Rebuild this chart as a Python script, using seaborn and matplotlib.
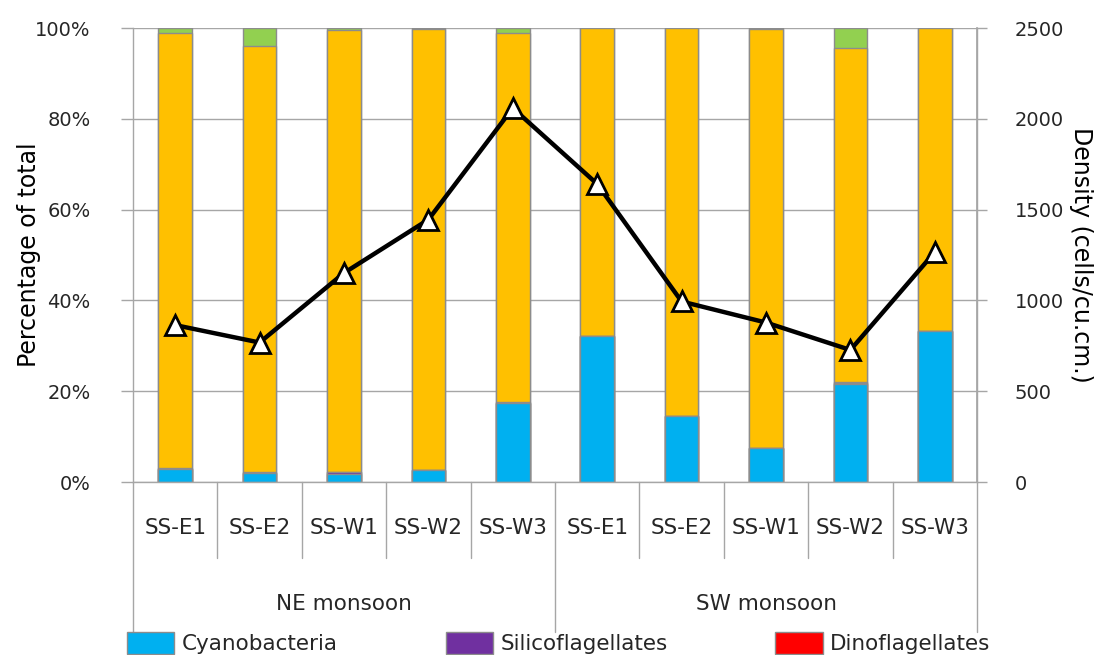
import numpy as np
import pandas as pd
import matplotlib
matplotlib.use('Agg')
import matplotlib.pyplot as plt
import matplotlib.transforms as mtransforms
from matplotlib.patches import Patch
from matplotlib.ticker import PercentFormatter
import seaborn as sns

# ---------------- data ----------------
seasons = ['NE monsoon', 'SW monsoon']
stations = ['SS-E1', 'SS-E2', 'SS-W1', 'SS-W2', 'SS-W3',
            'SS-E1', 'SS-E2', 'SS-W1', 'SS-W2', 'SS-W3']
season_of = ['NE monsoon'] * 5 + ['SW monsoon'] * 5

cyanobacteria     = [2.9, 1.9, 1.7, 2.6, 17.5, 32.2, 14.5, 7.4, 21.5, 33.3]
silicoflagellates = [0.0, 0.0, 0.4, 0.0, 0.0, 0.0, 0.0, 0.0, 0.4, 0.0]
dinoflagellates   = [0.1, 0.2, 0.1, 0.1, 0.1, 0.0, 0.0, 0.1, 0.1, 0.0]
diatoms           = [96.0, 94.0, 97.3, 97.1, 81.4, 67.8, 85.5, 92.2, 73.7, 66.7]
chlorophytes      = [1.0, 3.9, 0.5, 0.2, 1.0, 0.0, 0.0, 0.3, 4.3, 0.0]

density = [864, 768, 1151, 1445, 2059, 1641, 994, 878, 727, 1266]

group_names = ['Cyanobacteria', 'Silicoflagellates', 'Dinoflagellates',
               'Diatoms', 'Chlorophytes']
group_vals = [cyanobacteria, silicoflagellates, dinoflagellates, diatoms, chlorophytes]
group_colors = ['#00B0F0', '#7030A0', '#FF0000', '#FFC000', '#92D050']
legend_shown = [0, 1, 2]   # only the first legend row is visible in the reference

# ---------------- style ----------------
sns.set_theme(style='white')
plt.rcParams['font.family'] = ['DejaVu Sans']
GRAY = '#a6a6a6'
EDGE = '#8c8c8c'
TXT = '#262626'

W, H = 1104, 655
fig = plt.figure(figsize=(W / 100, H / 100), dpi=100)
L, R, T, B = 133, 977, 28, 482
ax = fig.add_axes([L / W, 1 - B / H, (R - L) / W, (B - T) / H])
axh = B - T

uids = [f'{s}|{st}' for s, st in zip(season_of, stations)]
cum = np.cumsum(np.array(group_vals), axis=0)
df = pd.DataFrame({'uid': uids})
for i in reversed(range(len(group_names))):
    df['h'] = cum[i]
    sns.barplot(data=df, x='uid', y='h', order=uids, color=group_colors[i],
                saturation=1, width=0.4, edgecolor=EDGE, linewidth=1,
                errorbar=None, ax=ax)

ax.set_xlim(-0.5, len(uids) - 0.5)
ax.set_ylim(0, 100)
ax.set_yticks(np.arange(0, 101, 20))
ax.yaxis.set_major_formatter(PercentFormatter(decimals=0))
ax.set_axisbelow(True)
ax.yaxis.grid(True, color=GRAY, lw=1)
ax.xaxis.grid(False)
ax.set_xticks([])
ax.set_xlabel('')
ax.set_ylabel('Percentage of total', fontsize=17, color='black', labelpad=-4)
ax.tick_params(axis='y', which='both', left=True, length=8.5, width=1,
               color=GRAY, pad=22, labelsize=14, labelcolor=TXT)
for s in ['left', 'right', 'bottom']:
    ax.spines[s].set_visible(True)
    ax.spines[s].set_color(GRAY)
    ax.spines[s].set_linewidth(1)
ax.spines['top'].set_visible(False)

# multi-level category axis
trans = mtransforms.blended_transform_factory(ax.transData, ax.transAxes)
for i, st in enumerate(stations):
    ax.text(i, -(528 - B) / axh, st, transform=trans, ha='center', va='center',
            fontsize=15.5, color=TXT)
n_per = len(stations) // len(seasons)
for g, name in enumerate(seasons):
    ax.text(g * n_per + (n_per - 1) / 2, -(604 - B) / axh, name, transform=trans,
            ha='center', va='center', fontsize=15.5, color=TXT)
for k in range(len(stations) + 1):
    xpos = k - 0.5
    long = (k % n_per == 0)
    depth = (632 - B) if long else (558 - B)
    ax.plot([xpos, xpos], [0, -depth / axh], transform=trans, clip_on=False,
            color=GRAY, lw=1)

# density line
ax2 = ax.twinx()
sns.lineplot(x=np.arange(len(density)), y=density, ax=ax2, color='black', lw=3.2,
             marker='^', markersize=15, markerfacecolor='white',
             markeredgecolor='black', markeredgewidth=2, zorder=5)
ax2.set_ylim(0, 2500)
ax2.set_yticks(np.arange(0, 2501, 500))
ax2.set_ylabel('Density (cells/cu.cm.)', fontsize=17, color='black',
               rotation=270, labelpad=21)
ax2.tick_params(axis='y', right=True, length=7, width=1, color=GRAY, pad=20,
                labelsize=14, labelcolor=TXT)
for s in ['left', 'top', 'bottom']:
    ax2.spines[s].set_visible(False)
ax2.spines['right'].set_color(GRAY)
ax2.grid(False)

# legend
handles = [Patch(facecolor=group_colors[i], edgecolor=EDGE, lw=1) for i in legend_shown]
labels = [group_names[i] for i in legend_shown]
fig.legend(handles, labels, ncol=3, loc='upper left',
           bbox_to_anchor=(127 / W, 1 - 632 / H), frameon=False, fontsize=15.5,
           handlelength=2.2, handleheight=1.2, handletextpad=0.35,
           columnspacing=5.0, borderaxespad=0, borderpad=0, labelcolor=TXT)

fig.savefig('out.png', dpi=100)
